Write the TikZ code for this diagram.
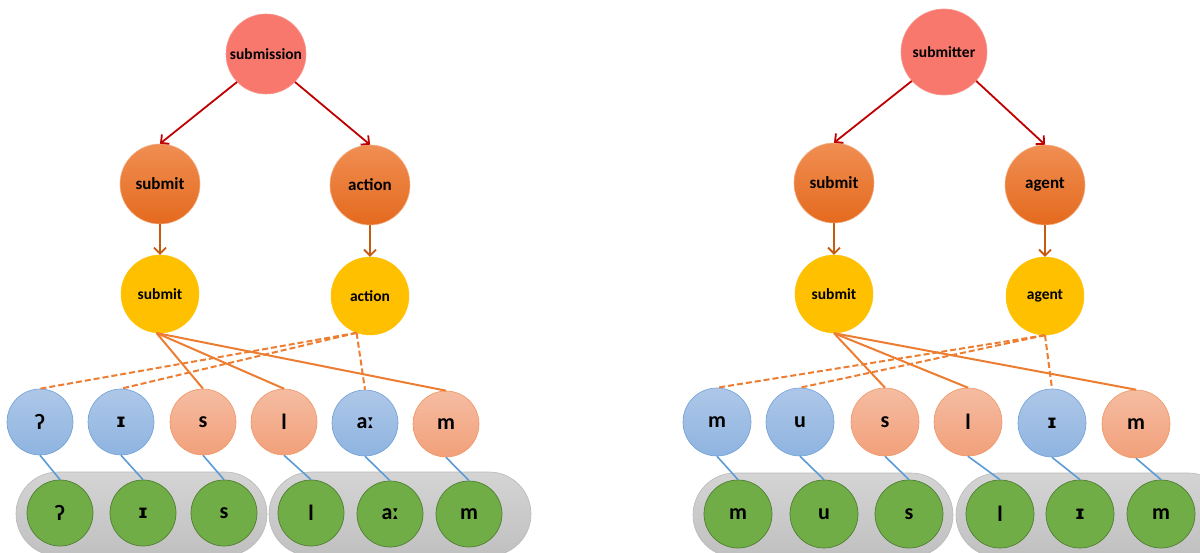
\documentclass[tikz,border=0pt]{standalone}
\usepackage{fontspec}
\setmainfont{Carlito}
\newfontfamily\ipafont{DejaVu Sans}
\newcommand{\smallcapI}{{\ipafont\fontsize{19}{20}\selectfont\bfseries ɪ}}
\usetikzlibrary{arrows.meta}
\definecolor{topc}{RGB}{248,120,110}
\definecolor{orT}{RGB}{240,142,82}
\definecolor{orB}{RGB}{228,106,30}
\definecolor{yel}{RGB}{255,192,0}
\definecolor{blT}{RGB}{174,199,232}
\definecolor{blB}{RGB}{142,180,224}
\definecolor{blD}{RGB}{110,160,215}
\definecolor{saT}{RGB}{245,188,162}
\definecolor{saB}{RGB}{242,160,122}
\definecolor{saD}{RGB}{240,150,100}
\definecolor{grn}{RGB}{112,173,71}
\definecolor{grnD}{RGB}{80,126,50}
\definecolor{pilT}{RGB}{212,212,212}
\definecolor{pilB}{RGB}{192,192,192}
\definecolor{pilD}{RGB}{185,185,185}
\definecolor{lineO}{RGB}{237,125,49}
\definecolor{redA}{RGB}{192,0,0}
\definecolor{brA}{RGB}{197,90,17}
\definecolor{blL}{RGB}{91,155,213}
\begin{document}
\begin{tikzpicture}[x=1pt,y=-1pt,
  font=\bfseries,
  topnode/.style={circle,inner sep=0pt,fill=topc,draw=topc!80!white,line width=0.6pt,font=\fontsize{15.5}{16}\selectfont\bfseries},
  ornode/.style={circle,inner sep=0pt,minimum size=80pt,top color=orT,bottom color=orB,draw=orT!70!white,line width=0.6pt,font=\fontsize{17}{18}\selectfont\bfseries},
  yenode/.style={circle,inner sep=0pt,minimum size=78pt,fill=yel,draw=yel,font=\fontsize{15.5}{16}\selectfont\bfseries},
  vowel/.style={circle,inner sep=0pt,top color=blT,bottom color=blB,draw=blD,line width=0.6pt,font=\fontsize{22}{24}\selectfont\bfseries},
  cons/.style={circle,inner sep=0pt,top color=saT,bottom color=saB,draw=saD,line width=0.6pt,font=\fontsize{22}{24}\selectfont\bfseries},
  gnode/.style={circle,inner sep=0pt,fill=grn,draw=grnD,line width=0.7pt,font=\fontsize{22}{24}\selectfont\bfseries},
  pill/.style={top color=pilT,bottom color=pilB,draw=pilD,line width=0.6pt,rounded corners=42pt},
  redarrow/.style={draw=redA,line width=1.8pt,-{Straight Barb[length=6pt,width=12pt]}},
  brarrow/.style={draw=brA,line width=1.8pt,-{Straight Barb[length=6pt,width=12pt]}},
  solidl/.style={draw=lineO,line width=2pt},
  dashl/.style={draw=lineO,line width=2pt,dash pattern=on 6pt off 3pt},
  bluel/.style={draw=blL,line width=1.6pt}]
\clip (0,0) rectangle (1200,553);
\fill[white] (0,0) rectangle (1200,553);

% ---------- pills ----------
\path[pill] (16,472) rectangle (267,556);
\path[pill] (269,472) rectangle (531,556);
\path[pill] (693,473) rectangle (953,557);
\path[pill] (956,473) rectangle (1230,557);

% ---------- left nodes ----------
\node[topnode,minimum size=80pt] (Ltop) at (266,54) {submission};
\node[ornode] (Lo1) at (160,184) {submit};
\node[ornode] (Lo2) at (370,185) {action};
\node[yenode] (Ly1) at (160,294) {submit};
\node[yenode] (Ly2) at (370,296) {action};
\node[vowel,minimum size=66pt] (Lp1) at (40,422) {ʔ};
\node[vowel,minimum size=66pt] (Lp2) at (121,422) {\smallcapI};
\node[cons,minimum size=66pt] (Lp3) at (203,422) {s};
\node[cons,minimum size=66pt] (Lp4) at (284,422) {l};
\node[vowel,minimum size=66pt] (Lp5) at (365,423) {aː};
\node[cons,minimum size=66pt] (Lp6) at (446,424) {m};
\node[gnode,minimum size=66pt] (Lg1) at (60,513) {ʔ};
\node[gnode,minimum size=66pt] (Lg2) at (143,513) {\smallcapI};
\node[gnode,minimum size=66pt] (Lg3) at (224,513) {s};
\node[gnode,minimum size=66pt] (Lg4) at (311,513) {l};
\node[gnode,minimum size=66pt] (Lg5) at (390,514) {aː};
\node[gnode,minimum size=66pt] (Lg6) at (469,514) {m};

% ---------- right nodes ----------
\node[topnode,minimum size=86pt] (Rtop) at (944,52) {submitter};
\node[ornode] (Ro1) at (834,183) {submit};
\node[ornode] (Ro2) at (1045,185) {agent};
\node[yenode] (Ry1) at (834,294) {submit};
\node[yenode] (Ry2) at (1045,296) {agent};
\node[vowel,minimum size=68pt] (Rp1) at (717,422) {m};
\node[vowel,minimum size=68pt] (Rp2) at (800,422) {u};
\node[cons,minimum size=68pt] (Rp3) at (885,422) {s};
\node[cons,minimum size=68pt] (Rp4) at (968,422) {l};
\node[vowel,minimum size=68pt] (Rp5) at (1052,423) {\smallcapI};
\node[cons,minimum size=68pt] (Rp6) at (1136,424) {m};
\node[gnode,minimum size=68pt] (Rg1) at (738,514) {m};
\node[gnode,minimum size=68pt] (Rg2) at (824,514) {u};
\node[gnode,minimum size=68pt] (Rg3) at (909,514) {s};
\node[gnode,minimum size=68pt] (Rg4) at (1000,514) {l};
\node[gnode,minimum size=68pt] (Rg5) at (1080,514) {\smallcapI};
\node[gnode,minimum size=68pt] (Rg6) at (1161,514) {m};

% ---------- arrows ----------
\draw[redarrow] (Ltop.224) -- (Lo1.north);
\draw[redarrow] (Ltop.316) -- (Lo2.north);
\draw[brarrow] (Lo1.south) -- (Ly1.north);
\draw[brarrow] (Lo2.south) -- (Ly2.north);
\draw[redarrow] (Rtop.222) -- (Ro1.north);
\draw[redarrow] (Rtop.318) -- (Ro2.north);
\draw[brarrow] (Ro1.south) -- (Ry1.north);
\draw[brarrow] (Ro2.south) -- (Ry2.north);

% ---------- orange links ----------
\draw[solidl] (Ly1.265) -- (Lp3.north);
\draw[solidl] (Ly1.265) -- (Lp4.north);
\draw[solidl] (Ly1.265) -- (Lp6.north);
\draw[dashl] (Ly2.250) -- (Lp1.north);
\draw[dashl] (Ly2.250) -- (Lp2.north);
\draw[dashl] (Ly2.250) -- (Lp5.north);
\draw[solidl] (Ry1.south) -- (Rp3.north);
\draw[solidl] (Ry1.south) -- (Rp4.north);
\draw[solidl] (Ry1.south) -- (Rp6.north);
\draw[dashl] (Ry2.south) -- (Rp1.north);
\draw[dashl] (Ry2.south) -- (Rp2.north);
\draw[dashl] (Ry2.south) -- (Rp5.north);

% ---------- blue links ----------
\foreach \i in {1,...,6}{
  \draw[bluel] (Lp\i.south) -- (Lg\i.north);
  \draw[bluel] (Rp\i.south) -- (Rg\i.north);
}
\end{tikzpicture}
\end{document}
